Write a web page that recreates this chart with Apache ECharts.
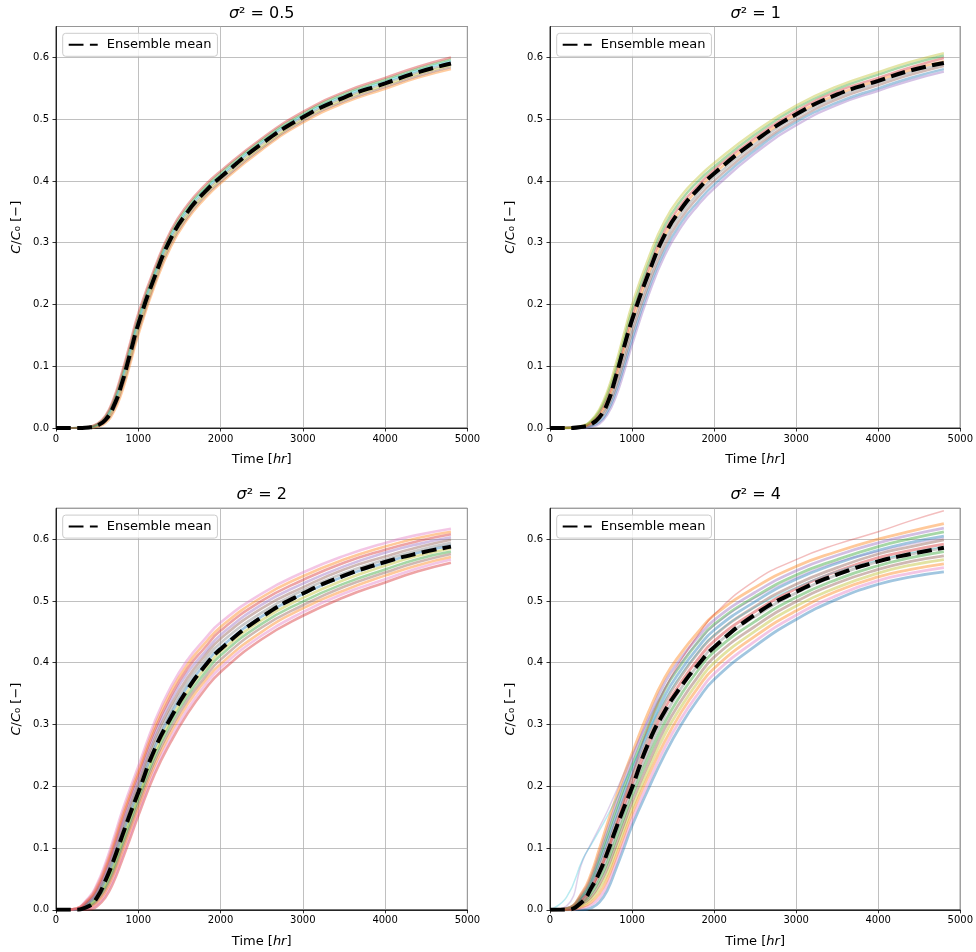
<!DOCTYPE html>
<html>
<head>
<meta charset="utf-8">
<script src="https://cdn.jsdelivr.net/npm/echarts@6/dist/echarts.min.js"></script>
<style>
html, body { margin: 0; padding: 0; background: #fff; }
#chart { width: 976px; height: 952px; }
</style>
</head>
<body>
<div id="chart"></div>
<script>
// time axis shared by every curve [hr]
var hours = [0, 200, 400, 500, 600, 700, 800, 900, 1000, 1200, 1400, 1600, 1800, 2000, 2500, 3000, 3500, 4000, 4400, 4800];

var sigmaLabels = ['0.5', '1', '2', '4'];

// ensemble means C/C0
var mean05 = [0, 0, 0.001, 0.004, 0.013, 0.035, 0.072, 0.12, 0.168, 0.245, 0.308, 0.35, 0.381, 0.406, 0.46, 0.503, 0.535, 0.558, 0.576, 0.59];
var mean1 = [0, 0, 0.002, 0.006, 0.017, 0.04, 0.082, 0.13, 0.175, 0.25, 0.313, 0.355, 0.386, 0.412, 0.465, 0.508, 0.54, 0.562, 0.579, 0.591];
var mean2 = [0, 0, 0.006, 0.02, 0.047, 0.08, 0.118, 0.155, 0.19, 0.26, 0.312, 0.357, 0.393, 0.422, 0.474, 0.512, 0.541, 0.563, 0.577, 0.588];
var mean4 = [0, 0, 0.014, 0.035, 0.06, 0.093, 0.13, 0.165, 0.198, 0.27, 0.322, 0.362, 0.396, 0.425, 0.478, 0.515, 0.543, 0.564, 0.576, 0.586];

// single realizations (lowest to highest)
var runs05 = [
    [0, 0, 0, 0.002, 0.008, 0.025, 0.057, 0.102, 0.15, 0.23, 0.294, 0.338, 0.37, 0.396, 0.45, 0.494, 0.526, 0.549, 0.567, 0.581],
    [0, 0, 0, 0.003, 0.01, 0.029, 0.063, 0.108, 0.156, 0.235, 0.299, 0.342, 0.374, 0.399, 0.453, 0.497, 0.529, 0.552, 0.57, 0.584],
    [0, 0, 0.001, 0.004, 0.012, 0.033, 0.068, 0.114, 0.162, 0.24, 0.303, 0.346, 0.377, 0.403, 0.456, 0.5, 0.532, 0.555, 0.573, 0.587],
    [0, 0, 0.001, 0.005, 0.014, 0.037, 0.074, 0.12, 0.168, 0.245, 0.308, 0.35, 0.381, 0.406, 0.46, 0.503, 0.535, 0.558, 0.576, 0.59],
    [0, 0, 0.001, 0.005, 0.016, 0.04, 0.079, 0.126, 0.174, 0.25, 0.312, 0.354, 0.385, 0.409, 0.463, 0.506, 0.538, 0.561, 0.579, 0.594],
    [0, 0, 0.002, 0.006, 0.018, 0.044, 0.085, 0.132, 0.18, 0.255, 0.317, 0.358, 0.388, 0.413, 0.466, 0.509, 0.541, 0.564, 0.582, 0.597],
    [0, 0, 0.002, 0.007, 0.02, 0.048, 0.09, 0.138, 0.186, 0.26, 0.321, 0.362, 0.392, 0.416, 0.469, 0.512, 0.544, 0.567, 0.585, 0.6]
];
var runs1 = [
    [0, 0, 0, 0.002, 0.007, 0.022, 0.05, 0.09, 0.135, 0.215, 0.28, 0.326, 0.36, 0.388, 0.445, 0.49, 0.523, 0.546, 0.563, 0.577],
    [0, 0, 0.001, 0.003, 0.01, 0.027, 0.058, 0.099, 0.144, 0.224, 0.288, 0.333, 0.366, 0.394, 0.45, 0.495, 0.527, 0.55, 0.567, 0.581],
    [0, 0, 0.001, 0.005, 0.014, 0.033, 0.065, 0.108, 0.154, 0.232, 0.296, 0.34, 0.373, 0.4, 0.455, 0.499, 0.532, 0.555, 0.572, 0.586],
    [0, 0, 0.002, 0.006, 0.017, 0.038, 0.073, 0.117, 0.163, 0.241, 0.304, 0.347, 0.379, 0.406, 0.46, 0.504, 0.536, 0.559, 0.576, 0.59],
    [0, 0, 0.002, 0.008, 0.02, 0.044, 0.08, 0.126, 0.172, 0.249, 0.312, 0.354, 0.386, 0.412, 0.465, 0.508, 0.54, 0.563, 0.58, 0.594],
    [0, 0, 0.003, 0.009, 0.024, 0.049, 0.088, 0.134, 0.182, 0.258, 0.32, 0.362, 0.392, 0.418, 0.47, 0.513, 0.545, 0.567, 0.584, 0.599],
    [0, 0, 0.003, 0.011, 0.027, 0.055, 0.095, 0.143, 0.191, 0.266, 0.328, 0.369, 0.399, 0.423, 0.475, 0.518, 0.549, 0.572, 0.589, 0.603],
    [0, 0, 0.004, 0.012, 0.03, 0.06, 0.103, 0.152, 0.2, 0.275, 0.336, 0.376, 0.405, 0.429, 0.48, 0.522, 0.553, 0.576, 0.593, 0.607]
];
var runs2 = [
    [0, 0, 0.001, 0.006, 0.02, 0.045, 0.079, 0.115, 0.152, 0.22, 0.273, 0.318, 0.355, 0.385, 0.438, 0.476, 0.506, 0.53, 0.548, 0.562],
    [0, 0, 0.003, 0.009, 0.025, 0.051, 0.086, 0.122, 0.159, 0.227, 0.28, 0.325, 0.362, 0.392, 0.444, 0.482, 0.512, 0.535, 0.553, 0.567],
    [0, 0, 0.004, 0.012, 0.029, 0.057, 0.092, 0.129, 0.165, 0.234, 0.288, 0.333, 0.369, 0.398, 0.45, 0.488, 0.517, 0.541, 0.558, 0.571],
    [0, 0, 0.006, 0.015, 0.034, 0.062, 0.099, 0.135, 0.172, 0.241, 0.295, 0.34, 0.375, 0.405, 0.457, 0.493, 0.523, 0.546, 0.563, 0.576],
    [0, 0, 0.007, 0.018, 0.038, 0.068, 0.105, 0.142, 0.179, 0.248, 0.303, 0.347, 0.382, 0.412, 0.463, 0.499, 0.528, 0.551, 0.568, 0.58],
    [0, 0, 0.009, 0.021, 0.043, 0.074, 0.112, 0.149, 0.185, 0.255, 0.31, 0.354, 0.389, 0.418, 0.469, 0.505, 0.534, 0.557, 0.573, 0.585],
    [0, 0, 0.011, 0.024, 0.048, 0.08, 0.119, 0.156, 0.192, 0.263, 0.318, 0.362, 0.396, 0.425, 0.475, 0.511, 0.54, 0.562, 0.578, 0.59],
    [0, 0, 0.012, 0.027, 0.052, 0.086, 0.125, 0.163, 0.199, 0.27, 0.325, 0.369, 0.403, 0.432, 0.481, 0.517, 0.545, 0.567, 0.582, 0.594],
    [0, 0, 0.014, 0.03, 0.057, 0.092, 0.132, 0.169, 0.205, 0.277, 0.332, 0.376, 0.41, 0.439, 0.488, 0.522, 0.551, 0.572, 0.587, 0.599],
    [0, 0, 0.015, 0.033, 0.061, 0.098, 0.138, 0.176, 0.212, 0.284, 0.34, 0.384, 0.416, 0.445, 0.494, 0.528, 0.556, 0.578, 0.592, 0.603],
    [0, 0.001, 0.017, 0.036, 0.066, 0.103, 0.145, 0.183, 0.219, 0.291, 0.347, 0.391, 0.423, 0.452, 0.5, 0.534, 0.562, 0.583, 0.597, 0.608],
    [0, 0.001, 0.018, 0.039, 0.07, 0.109, 0.151, 0.189, 0.225, 0.298, 0.355, 0.398, 0.43, 0.458, 0.506, 0.54, 0.567, 0.588, 0.602, 0.612],
    [0, 0.001, 0.02, 0.042, 0.075, 0.115, 0.158, 0.196, 0.232, 0.305, 0.362, 0.405, 0.437, 0.465, 0.512, 0.546, 0.573, 0.594, 0.607, 0.617]
];
var runs4 = [
    [0, 0, 0, 0.003, 0.012, 0.032, 0.065, 0.1, 0.136, 0.196, 0.252, 0.3, 0.34, 0.373, 0.427, 0.47, 0.503, 0.527, 0.539, 0.547],
    [0, 0, 0.003, 0.008, 0.019, 0.041, 0.075, 0.11, 0.146, 0.206, 0.263, 0.31, 0.349, 0.382, 0.435, 0.477, 0.509, 0.533, 0.545, 0.554],
    [0, 0, 0.005, 0.012, 0.026, 0.05, 0.084, 0.12, 0.156, 0.217, 0.273, 0.32, 0.359, 0.391, 0.443, 0.484, 0.516, 0.539, 0.551, 0.56],
    [0, 0.001, 0.008, 0.017, 0.034, 0.059, 0.094, 0.13, 0.165, 0.227, 0.284, 0.329, 0.368, 0.4, 0.451, 0.492, 0.522, 0.545, 0.558, 0.567],
    [0, 0.001, 0.01, 0.021, 0.041, 0.068, 0.103, 0.139, 0.175, 0.237, 0.294, 0.339, 0.377, 0.409, 0.459, 0.499, 0.529, 0.551, 0.564, 0.573],
    [0, 0.001, 0.013, 0.026, 0.048, 0.077, 0.113, 0.149, 0.185, 0.248, 0.304, 0.349, 0.387, 0.418, 0.467, 0.506, 0.535, 0.557, 0.57, 0.58],
    [0, 0.001, 0.015, 0.031, 0.055, 0.086, 0.123, 0.159, 0.195, 0.258, 0.315, 0.359, 0.396, 0.427, 0.475, 0.513, 0.542, 0.564, 0.576, 0.586],
    [0, 0.001, 0.018, 0.035, 0.062, 0.095, 0.132, 0.169, 0.204, 0.268, 0.326, 0.369, 0.405, 0.435, 0.483, 0.52, 0.548, 0.57, 0.582, 0.592],
    [0, 0.001, 0.02, 0.04, 0.069, 0.104, 0.142, 0.179, 0.214, 0.279, 0.336, 0.379, 0.415, 0.444, 0.491, 0.527, 0.554, 0.576, 0.588, 0.599],
    [0, 0.002, 0.023, 0.044, 0.077, 0.113, 0.151, 0.189, 0.224, 0.289, 0.347, 0.389, 0.424, 0.453, 0.499, 0.535, 0.561, 0.582, 0.595, 0.605],
    [0, 0.002, 0.025, 0.049, 0.084, 0.122, 0.161, 0.198, 0.234, 0.299, 0.357, 0.398, 0.433, 0.462, 0.507, 0.542, 0.567, 0.588, 0.601, 0.612],
    [0, 0.002, 0.028, 0.053, 0.091, 0.131, 0.17, 0.208, 0.243, 0.31, 0.368, 0.408, 0.441, 0.469, 0.514, 0.549, 0.574, 0.594, 0.607, 0.618],
    [0, 0.002, 0.03, 0.058, 0.098, 0.14, 0.18, 0.218, 0.253, 0.32, 0.376, 0.416, 0.449, 0.477, 0.522, 0.556, 0.58, 0.6, 0.613, 0.625],
    // stray members at the edges of the spread
    [0, 0, 0.012, 0.032, 0.06, 0.095, 0.135, 0.177, 0.218, 0.298, 0.358, 0.405, 0.444, 0.478, 0.533, 0.567, 0.592, 0.612, 0.63, 0.646],
    [0, 0.006, 0.08, 0.107, 0.133, 0.16, 0.19, 0.22, 0.25, 0.308, 0.358, 0.4, 0.433, 0.46, 0.505, 0.538, 0.563, 0.58, 0.592, 0.602],
    [0, 0.02, 0.082, 0.105, 0.128, 0.152, 0.178, 0.205, 0.232, 0.29, 0.34, 0.382, 0.416, 0.445, 0.49, 0.522, 0.548, 0.566, 0.578, 0.588]
];

var yTicks = [0, 0.1, 0.2, 0.3, 0.4, 0.5, 0.6];
var xTicks = [0, 1000, 2000, 3000, 4000, 5000];

// matplotlib tab10
var tab10 = ['#1f77b4', '#ff7f0e', '#2ca02c', '#d62728', '#9467bd', '#8c564b', '#e377c2', '#7f7f7f', '#bcbd22', '#17becf'];
var runColors = [
    [1, 5, 8, 7, 9, 2, 3],
    [4, 0, 5, 7, 1, 3, 2, 8],
    [3, 6, 1, 5, 2, 8, 0, 7, 5, 4, 3, 1, 6],
    [0, 6, 1, 8, 5, 2, 7, 3, 5, 0, 2, 4, 1, 3, 4, 9]
];
var strayCount = [0, 0, 0, 3];
var lineWidths = [2.2, 2.4, 2.6, 2.8];
var lineAlphas = [0.4, 0.4, 0.42, 0.42];

var means = [mean05, mean1, mean2, mean4];
var runs = [runs05, runs1, runs2, runs4];

// panel placement
var boxes = [[56, 26.5], [550, 26.5], [56, 508.3], [550, 508.3]];
var boxW = 411.4, boxH = 401.5;
var font = 'DejaVu Sans';

function pairs(ys) {
    return hours.map(function (h, i) { return [h, ys[i]]; });
}

var option = {
    animation: false,
    backgroundColor: '#fff',
    title: [], legend: [], grid: [], xAxis: [], yAxis: [], series: []
};

for (var k = 0; k < 4; k++) {
    var b = boxes[k];
    option.grid.push({
        left: b[0], top: b[1], width: boxW, height: boxH,
        show: true, borderColor: '#000', borderWidth: 0.8, backgroundColor: 'transparent'
    });
    option.title.push({
        text: '{i|σ}² = ' + sigmaLabels[k],
        left: b[0] + boxW / 2, top: b[1] - 21, textAlign: 'center', padding: 0,
        textStyle: {
            fontFamily: font, fontSize: 16, fontWeight: 'normal', color: '#000',
            rich: { i: { fontFamily: font, fontSize: 16, fontStyle: 'italic', color: '#000' } }
        }
    });
    option.legend.push({
        data: ['Ensemble mean'], selectedMode: false,
        left: b[0] + 6.7, top: b[1] + 6.8,
        itemWidth: 29, itemHeight: 12,
        padding: [5, 6, 5, 5],
        itemStyle: { opacity: 0 },
        backgroundColor: 'rgba(255,255,255,0.8)', borderColor: '#cccccc', borderWidth: 1, borderRadius: 3,
        textStyle: { fontFamily: font, fontSize: 13, color: '#000', padding: [0, 0, 0, 4] }
    });
    option.xAxis.push({
        type: 'value', gridIndex: k, min: 0, max: 5000, interval: 1000,
        name: 'Time [{i|hr}]', nameLocation: 'middle', nameGap: 25,
        nameTextStyle: {
            fontFamily: font, fontSize: 13, color: '#000',
            rich: { i: { fontFamily: font, fontSize: 13, fontStyle: 'italic', color: '#000' } }
        },
        axisLine: { show: true, onZero: false, lineStyle: { color: '#000', width: 0.8 } },
        axisTick: { show: true, inside: false, length: 3.5, lineStyle: { color: '#000', width: 0.8 } },
        axisLabel: {
            fontFamily: font, fontSize: 10, color: '#000', margin: 6,
            formatter: function (v) { return String(v); }
        },
        splitLine: { show: true, lineStyle: { color: '#b0b0b0', width: 0.8 } }
    });
    option.yAxis.push({
        type: 'value', gridIndex: k, min: 0, max: 0.65, interval: 0.1,
        name: '{i|C}/{i|C}₀ [−]', nameLocation: 'middle', nameGap: 33, nameRotate: 90,
        nameTextStyle: {
            fontFamily: font, fontSize: 13, color: '#000',
            rich: { i: { fontFamily: font, fontSize: 13, fontStyle: 'italic', color: '#000' } }
        },
        axisLine: { show: true, onZero: false, lineStyle: { color: '#000', width: 0.8 } },
        axisTick: { show: true, inside: false, length: 3.5, lineStyle: { color: '#000', width: 0.8 } },
        axisLabel: {
            fontFamily: font, fontSize: 10, color: '#000', margin: 7, showMaxLabel: false,
            formatter: function (v) { return v.toFixed(1); }
        },
        splitLine: { show: true, lineStyle: { color: '#b0b0b0', width: 0.8 } }
    });

    var n = runs[k].length;
    runs[k].forEach(function (r, j) {
        var stray = j >= n - strayCount[k];
        option.series.push({
            type: 'line', xAxisIndex: k, yAxisIndex: k, data: pairs(r),
            symbol: 'none', smooth: 0.5, silent: true, z: 2,
            lineStyle: {
                color: tab10[runColors[k][j]],
                width: stray ? 1.5 : lineWidths[k],
                opacity: stray ? 0.3 : lineAlphas[k]
            }
        });
    });
    option.series.push({
        name: 'Ensemble mean', type: 'line', xAxisIndex: k, yAxisIndex: k, data: pairs(means[k]),
        symbol: 'none', smooth: 0.5, silent: true, z: 3,
        itemStyle: { color: '#000' },
        lineStyle: { color: '#000', width: 4, type: [14.8, 6.4], cap: 'butt' }
    });
}

var chart = echarts.init(document.getElementById('chart'));
chart.setOption(option);
</script>
</body>
</html>
